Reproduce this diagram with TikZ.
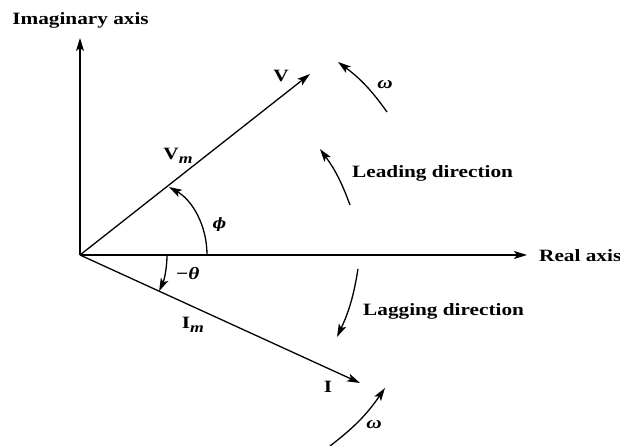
\documentclass[tikz,border=0pt]{standalone}
\usepackage{fontspec}
\setmainfont{Liberation Serif}[FakeStretch=1.23]
\newfontfamily\phifont{DejaVu Serif}
\usetikzlibrary{arrows.meta}
\newcommand{\subm}{\raisebox{-3.5pt}{\Large\itshape m}}
\tikzset{
  vec/.style={line width=1.3pt,-{Stealth[length=13pt,width=8pt,inset=3pt]}},
  rot/.style={line width=1.3pt,-{Stealth[length=13pt,width=8pt,inset=3pt]}},
  lbl/.style={font=\LARGE\bfseries,inner sep=0pt},
  glbl/.style={font=\LARGE\bfseries\itshape,inner sep=0pt},
}
\begin{document}
\begin{tikzpicture}[x=1pt,y=1pt]
\useasboundingbox (-80,-191) rectangle (540,255);
% origin and vector tips
\coordinate (O) at (0,0);
\coordinate (imtip) at (0,217);
\coordinate (retip) at (447,0);
\coordinate (Vtip) at (230,181);
\coordinate (Itip) at (280,-128);
% axes and phasors
\draw[vec] (O) -- (imtip);
\draw[vec] (O) -- (retip);
\draw[vec] (O) -- (Vtip);
\draw[vec] (O) -- (Itip);
% axis labels
\node[lbl,anchor=base] (imlab) at (0.5,230) {Imaginary axis};
\node[lbl,anchor=base west] (relab) at (459,-6.5) {Real axis};
% vector labels
\node[lbl] (Vlab) at (201,179) {V};
\node[lbl] (Vmlab) at (98,99) {V\subm};
\node[lbl] (Ilab) at (248,-132) {I};
\node[lbl] (Imlab) at (113,-70) {I\subm};
% angles
\coordinate (phiA) at (127,0);
\coordinate (phiB) at (89,68);
\draw[rot] (phiA) .. controls (127,30) and (112,55) .. (phiB);
\node[glbl,font=\Large\phifont\bfseries\itshape] (philab) at (139.5,30) {ϕ};
\coordinate (thA) at (87,0);
\draw[rot] (thA) arc[start angle=0,end angle=-24.6,radius=87pt] coordinate (thB);
\node[glbl] (thlab) at (107.5,-19) {−θ};
% rotation arrows
\coordinate (w1a) at (307,143);
\coordinate (w1b) at (258,193);
\draw[rot] (w1a) to[bend right=9] (w1b);
\node[glbl] (w1lab) at (305,170) {ω};
\coordinate (leada) at (270,50);
\coordinate (leadb) at (240,106);
\draw[rot] (leada) to[bend right=8] (leadb);
\node[lbl,anchor=base west] (leadlab) at (272,77) {Leading direction};
\coordinate (laga) at (278,-14);
\coordinate (lagb) at (257,-82);
\draw[rot] (laga) to[bend left=8] (lagb);
\node[lbl,anchor=base west] (laglab) at (283,-61) {Lagging direction};
\coordinate (w2a) at (250,-191);
\coordinate (w2b) at (305,-133);
\draw[rot] (w2a) to[bend right=9] (w2b);
\node[glbl] (w2lab) at (294,-170) {ω};
\end{tikzpicture}
\end{document}
